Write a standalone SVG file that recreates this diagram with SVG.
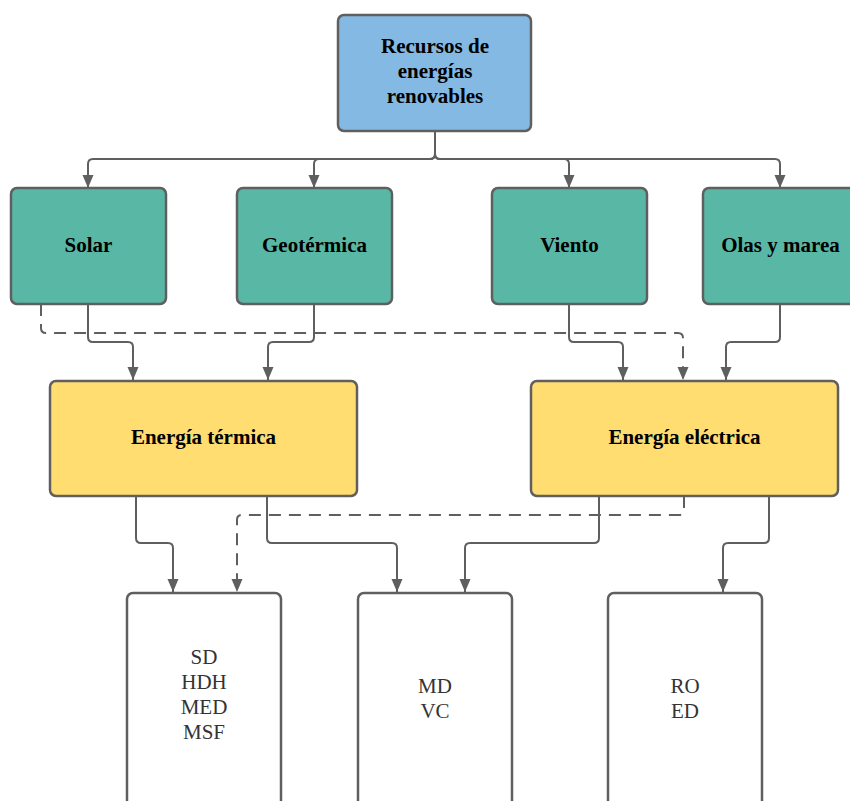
<svg xmlns="http://www.w3.org/2000/svg" width="850" height="801" viewBox="0 0 850 801">
<defs>
<marker id="arr" viewBox="0 -6 14 12" refX="13" refY="0" markerWidth="14" markerHeight="12" markerUnits="userSpaceOnUse" orient="auto">
<path d="M0,-5.5 L13,0 L0,5.5 z" fill="#5f5f5f"/>
</marker>
<style>
.box{stroke:#5f5f5f;stroke-width:2.5}
.blue{fill:#84b9e3}
.green{fill:#59b8a5}
.yellow{fill:#ffdd71}
.white{fill:#ffffff}
.lbl{font-weight:bold;font-size:21px;fill:#000;text-anchor:middle}
.lst{font-size:21px;fill:#333;text-anchor:middle}
.c{fill:none;stroke:#5f5f5f;stroke-width:2;marker-end:url(#arr)}
.d{stroke-dasharray:12,8}
</style>
</defs>
<rect width="850" height="801" fill="#ffffff"/>
<g id="connectors">
<path class="c" d="M435,131 V154 Q435,159 430,159 H93 Q88,159 88,164 V188"/>
<path class="c" d="M435,131 V154 Q435,159 430,159 H319 Q314,159 314,164 V188"/>
<path class="c" d="M435,131 V154 Q435,159 440,159 H564 Q569,159 569,164 V188"/>
<path class="c" d="M435,131 V154 Q435,159 440,159 H775 Q780,159 780,164 V188"/>
<path class="c" d="M88,304 V337 Q88,342 93,342 H128 Q133,342 133,347 V380"/>
<path class="c" d="M314,304 V337 Q314,342 309,342 H273 Q268,342 268,347 V380"/>
<path class="c d" d="M41,304 V328 Q41,333 46,333 H678 Q683,333 683,338 V380"/>
<path class="c" d="M569,304 V337 Q569,342 574,342 H618 Q623,342 623,347 V380"/>
<path class="c" d="M780,304 V337 Q780,342 775,342 H731 Q726,342 726,347 V380"/>
<path class="c" d="M136,496 V538 Q136,543 141,543 H168 Q173,543 173,548 V592"/>
<path class="c" d="M267,496 V538 Q267,543 272,543 H392 Q397,543 397,548 V592"/>
<path class="c d" d="M684,496 V510 Q684,515 679,515 H242 Q237,515 237,520 V592"/>
<path class="c" d="M599,496 V538 Q599,543 594,543 H470 Q465,543 465,548 V592"/>
<path class="c" d="M769,496 V538 Q769,543 764,543 H728 Q723,543 723,548 V592"/>
</g>
<g font-family="Liberation Serif, Times New Roman, DejaVu Serif, serif">
<g id="recursos">
<rect class="box blue" x="338" y="15" width="193" height="116" rx="6"/>
<text class="lbl" x="435" y="53">Recursos de</text>
<text class="lbl" x="435" y="78">energías</text>
<text class="lbl" x="435" y="103">renovables</text>
</g>
<g id="solar">
<rect class="box green" x="11" y="188" width="155" height="116" rx="6"/>
<text class="lbl" x="88.5" y="252">Solar</text>
</g>
<g id="geotermica">
<rect class="box green" x="237" y="188" width="155" height="116" rx="6"/>
<text class="lbl" x="314.5" y="252">Geotérmica</text>
</g>
<g id="viento">
<rect class="box green" x="492" y="188" width="155" height="116" rx="6"/>
<text class="lbl" x="569.5" y="252">Viento</text>
</g>
<g id="olas">
<rect class="box green" x="703" y="188" width="155" height="116" rx="6"/>
<text class="lbl" x="780.5" y="252">Olas y marea</text>
</g>
<g id="termica">
<rect class="box yellow" x="50" y="381" width="307" height="115" rx="6"/>
<text class="lbl" x="203.5" y="444">Energía térmica</text>
</g>
<g id="electrica">
<rect class="box yellow" x="531" y="381" width="307" height="115" rx="6"/>
<text class="lbl" x="684.5" y="444">Energía eléctrica</text>
</g>
<g id="proc1">
<rect class="box white" x="127" y="593" width="154" height="240" rx="6"/>
<text class="lst" x="204" y="664">SD</text>
<text class="lst" x="204" y="689">HDH</text>
<text class="lst" x="204" y="714">MED</text>
<text class="lst" x="204" y="739">MSF</text>
</g>
<g id="proc2">
<rect class="box white" x="358" y="593" width="154" height="240" rx="6"/>
<text class="lst" x="435" y="693">MD</text>
<text class="lst" x="435" y="718">VC</text>
</g>
<g id="proc3">
<rect class="box white" x="608" y="593" width="154" height="240" rx="6"/>
<text class="lst" x="685" y="693">RO</text>
<text class="lst" x="685" y="718">ED</text>
</g>
</g>
</svg>
